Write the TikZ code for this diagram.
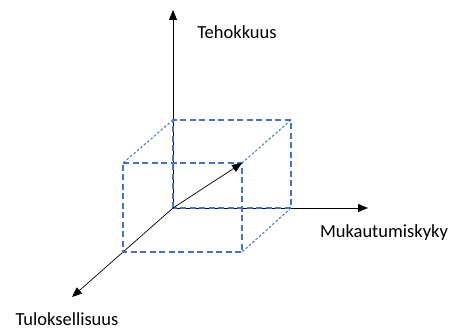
\documentclass[tikz,border=0pt]{standalone}
\usepackage{fontspec}
\setmainfont{Carlito}
\usepackage{tikz}
\usetikzlibrary{arrows.meta}
\definecolor{cubeblue}{RGB}{68,114,196}
\tikzset{every node/.append style={font=\fontsize{18.5}{22}\selectfont}}
\tikzset{face/.style={cubeblue, line width=1.8pt, dash pattern=on 6pt off 3.5pt},
         edge/.style={cubeblue, line width=1pt, dash pattern=on 2.5pt off 2pt}}

\begin{document}
\begin{tikzpicture}[x=1pt, y=-1pt, >={Triangle[length=10pt,width=8pt]}]
    \useasboundingbox (0,0) rectangle (452,329);
    % axes
    \coordinate (O) at (173,208);
    \coordinate (Ytop) at (173,10);
    \coordinate (Xend) at (368,208);
    \coordinate (Zend) at (72,297);
    \draw[->, line width=0.9pt] (O) -- (Ytop);
    \draw[->, line width=0.9pt] (O) -- (Xend);
    \draw[->, line width=0.7pt] (O) -- (Zend);
    \node (teh) at (237,32) {Tehokkuus};
    \node (muk) at (384,233) {Mukautumiskyky};
    \node (tul) at (67,319) {Tuloksellisuus};
    % cube corners
    \coordinate (B1) at (173,120);
    \coordinate (B2) at (291,120);
    \coordinate (B3) at (291,208);
    \coordinate (F1) at (123,163);
    \coordinate (F2) at (242,163);
    \coordinate (F3) at (242,252);
    \coordinate (F4) at (123,252);
    \draw[face] (O) -- (B1) -- (B2) -- (B3) -- cycle;
    \draw[face] (F1) -- (F2) -- (F3) -- (F4) -- cycle;
    \draw[edge] (B1) -- (F1);
    \draw[edge] (B2) -- (F2);
    \draw[edge] (B3) -- (F3);
    \draw[->, line width=0.7pt] (O) -- (F2);
\end{tikzpicture}
\end{document}
